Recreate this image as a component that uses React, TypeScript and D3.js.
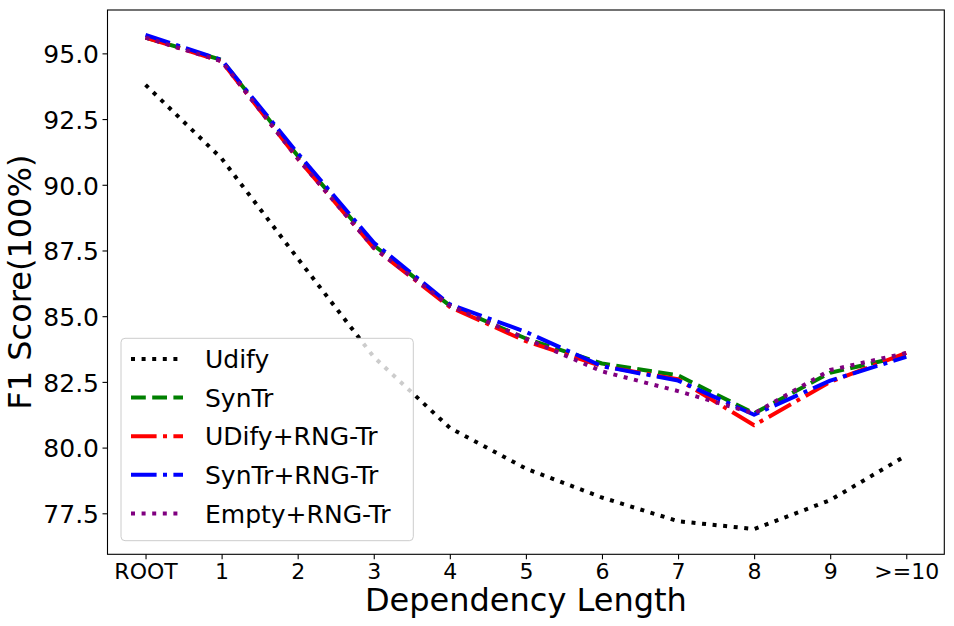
import React, { useEffect, useRef } from "react";
import * as d3 from "d3";

// categories on the x axis
const categories = ["ROOT", "1", "2", "3", "4", "5", "6", "7", "8", "9", ">=10"];

// F1 scores
const udify = [93.8, 91.0, 87.2, 83.45, 80.75, 79.2, 78.1, 77.2, 76.9, 78.0, 79.7];
const synTr = [95.6, 94.75, 91.1, 87.7, 85.4, 84.15, 83.2, 82.75, 81.3, 82.85, 83.5];
const udifyRng = [95.6, 94.7, 91.0, 87.6, 85.35, 84.05, 83.1, 82.6, 80.85, 82.5, 83.6];
const synTrRng = [95.7, 94.75, 91.2, 87.8, 85.45, 84.4, 83.1, 82.55, 81.25, 82.55, 83.45];
const emptyRng = [95.6, 94.7, 91.0, 87.6, 85.4, 84.15, 82.9, 82.15, 81.3, 82.95, 83.6];

const yTicks = [77.5, 80.0, 82.5, 85.0, 87.5, 90.0, 92.5, 95.0];

interface Series {
  name: string;
  values: number[];
  color: string;
  dash: string;
}

const LW = 4;
const DOTTED = `${LW * 1} ${LW * 1.65}`;
const DASHED = `${LW * 3.7} ${LW * 1.6}`;
const DASHDOT = `${LW * 6.4} ${LW * 1.6} ${LW * 1} ${LW * 1.6}`;

const series: Series[] = [
  { name: "Udify", values: udify, color: "#000000", dash: DOTTED },
  { name: "SynTr", values: synTr, color: "#008000", dash: DASHED },
  { name: "UDify+RNG-Tr", values: udifyRng, color: "#ff0000", dash: DASHDOT },
  { name: "SynTr+RNG-Tr", values: synTrRng, color: "#0000ff", dash: DASHDOT },
  { name: "Empty+RNG-Tr", values: emptyRng, color: "#800080", dash: DOTTED },
];

const FONT = "DejaVu Sans";

function DependencyChart({ width = 954, height = 626 }) {
  const svgRef = useRef<SVGSVGElement>(null);

  useEffect(() => {
    if (!svgRef.current) return;
    document.body.style.margin = "0";

    const svg = d3.select(svgRef.current);
    svg.selectAll("*").remove();

    const left = 107.5;
    const right = 944.3;
    const top = 10;
    const bottom = 554.3;

    const x = d3
      .scalePoint<string>()
      .domain(categories)
      .range([left, right])
      .padding(0.5);

    const y = d3.scaleLinear().domain([75.94, 96.65]).range([bottom, top]);

    // white background
    svg
      .append("rect")
      .attr("width", width)
      .attr("height", height)
      .attr("fill", "white");

    // lines
    const line = d3
      .line<number>()
      .x((_, i) => x(categories[i]) as number)
      .y((d) => y(d));

    series.forEach((s) => {
      svg
        .append("path")
        .datum(s.values)
        .attr("d", line)
        .attr("fill", "none")
        .attr("stroke", s.color)
        .attr("stroke-width", LW)
        .attr("stroke-dasharray", s.dash)
        .attr("stroke-linecap", "butt")
        .attr("stroke-linejoin", "round");
    });

    // frame
    svg
      .append("rect")
      .attr("x", left)
      .attr("y", top)
      .attr("width", right - left)
      .attr("height", bottom - top)
      .attr("fill", "none")
      .attr("stroke", "#000")
      .attr("stroke-width", 1.1);

    // x axis
    const xAxis = svg
      .append("g")
      .attr("transform", `translate(0, ${bottom})`)
      .call(d3.axisBottom(x).tickSize(5).tickPadding(4));
    xAxis.select(".domain").remove();
    xAxis.selectAll(".tick line").attr("stroke", "#000").attr("stroke-width", 1.1);
    xAxis
      .selectAll(".tick text")
      .attr("fill", "#000")
      .style("font-family", FONT)
      .style("font-size", "22px");

    // y axis
    const yAxis = svg
      .append("g")
      .attr("transform", `translate(${left}, 0)`)
      .call(
        d3
          .axisLeft(y)
          .tickValues(yTicks)
          .tickFormat(d3.format(".1f"))
          .tickSize(5)
          .tickPadding(3.5)
      );
    yAxis.select(".domain").remove();
    yAxis.selectAll(".tick line").attr("stroke", "#000").attr("stroke-width", 1.1);
    yAxis
      .selectAll(".tick text")
      .attr("fill", "#000")
      .attr("dy", "0.37em")
      .style("font-family", FONT)
      .style("font-size", "25px");

    // axis titles
    svg
      .append("text")
      .attr("x", (left + right) / 2)
      .attr("y", 611)
      .attr("text-anchor", "middle")
      .style("font-family", FONT)
      .style("font-size", "32px")
      .text("Dependency Length");

    svg
      .append("text")
      .attr("transform", `translate(31, ${(top + bottom) / 2}) rotate(-90)`)
      .attr("text-anchor", "middle")
      .style("font-family", FONT)
      .style("font-size", "32px")
      .text("F1 Score(100%)");

    // legend
    const legend = svg.append("g");
    legend
      .append("rect")
      .attr("x", 121)
      .attr("y", 338.3)
      .attr("width", 292.3)
      .attr("height", 202.4)
      .attr("rx", 4)
      .attr("fill", "white")
      .attr("fill-opacity", 0.8)
      .attr("stroke", "#cccccc")
      .attr("stroke-width", 1);

    series.forEach((s, i) => {
      const cy = 359 + i * 38.6;
      legend
        .append("line")
        .attr("x1", 131)
        .attr("x2", 183)
        .attr("y1", cy)
        .attr("y2", cy)
        .attr("stroke", s.color)
        .attr("stroke-width", LW)
        .attr("stroke-dasharray", s.dash);
      legend
        .append("text")
        .attr("x", 205)
        .attr("y", cy + 9.2)
        .style("font-family", FONT)
        .style("font-size", "25px")
        .text(s.name);
    });
  }, [width, height]);

  return <svg ref={svgRef} width={width} height={height} style={{ display: "block" }}></svg>;
}

export default function App() {
  return <DependencyChart />;
}
